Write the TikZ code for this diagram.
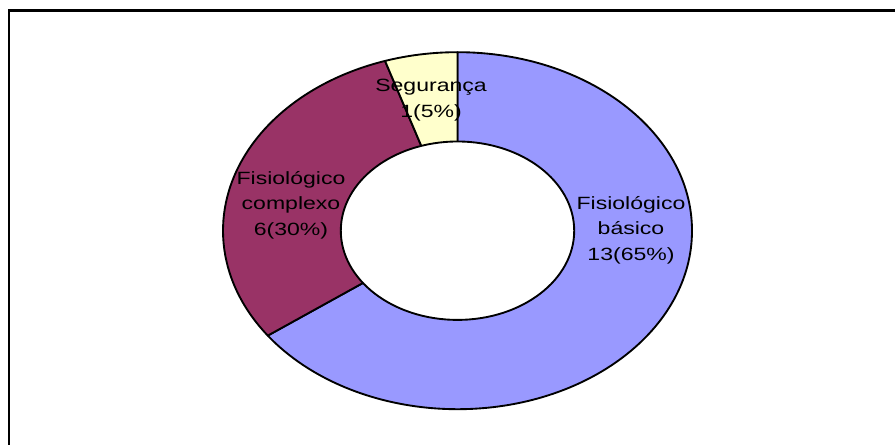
\documentclass[tikz,border=0pt]{standalone}
\usepackage{fontspec}
\newfontfamily\chartfont[FakeStretch=1.3]{Liberation Sans}
\definecolor{fisbasico}{HTML}{9999FF}
\definecolor{fiscomplexo}{HTML}{993366}
\definecolor{seguranca}{HTML}{FFFFCC}

\begin{document}
\begin{tikzpicture}[x=0.75pt, y=0.75pt,
  slice/.style={draw=black, line width=1.4pt, line join=round},
  lbl/.style={font=\chartfont\fontsize{13.3}{19.2}\selectfont, align=center,
              text=black, inner sep=0pt}
]
\clip (0,0) rectangle (895,445);
% chart frame (right and bottom edges are cut off)
\draw[line width=1.9pt] (9,-20) -- (9,434.5) -- (920,434.5);

\coordinate (c) at (457.5,214.3);
\filldraw[slice, fill=fisbasico] (c) -- ++(90:234.5 and 178.5)
  arc[start angle=90, end angle=-144, x radius=234.5, y radius=178.5] -- cycle;
\filldraw[slice, fill=fiscomplexo] (c) -- ++(-144:234.5 and 178.5)
  arc[start angle=-144, end angle=-252, x radius=234.5, y radius=178.5] -- cycle;
\filldraw[slice, fill=seguranca] (c) -- ++(108:234.5 and 178.5)
  arc[start angle=108, end angle=90, x radius=234.5, y radius=178.5] -- cycle;
% hole
\filldraw[slice, fill=white] (c) ellipse[x radius=116.7, y radius=89.2];

\node[lbl] (basico)    at (631,215) {Fisiológico\\básico\\13(65\%)};
\node[lbl] (complexo)  at (291,240) {Fisiológico\\complexo\\6(30\%)};
\node[lbl] (segur)     at (431,345) {Segurança\\1(5\%)};
\end{tikzpicture}
\end{document}
